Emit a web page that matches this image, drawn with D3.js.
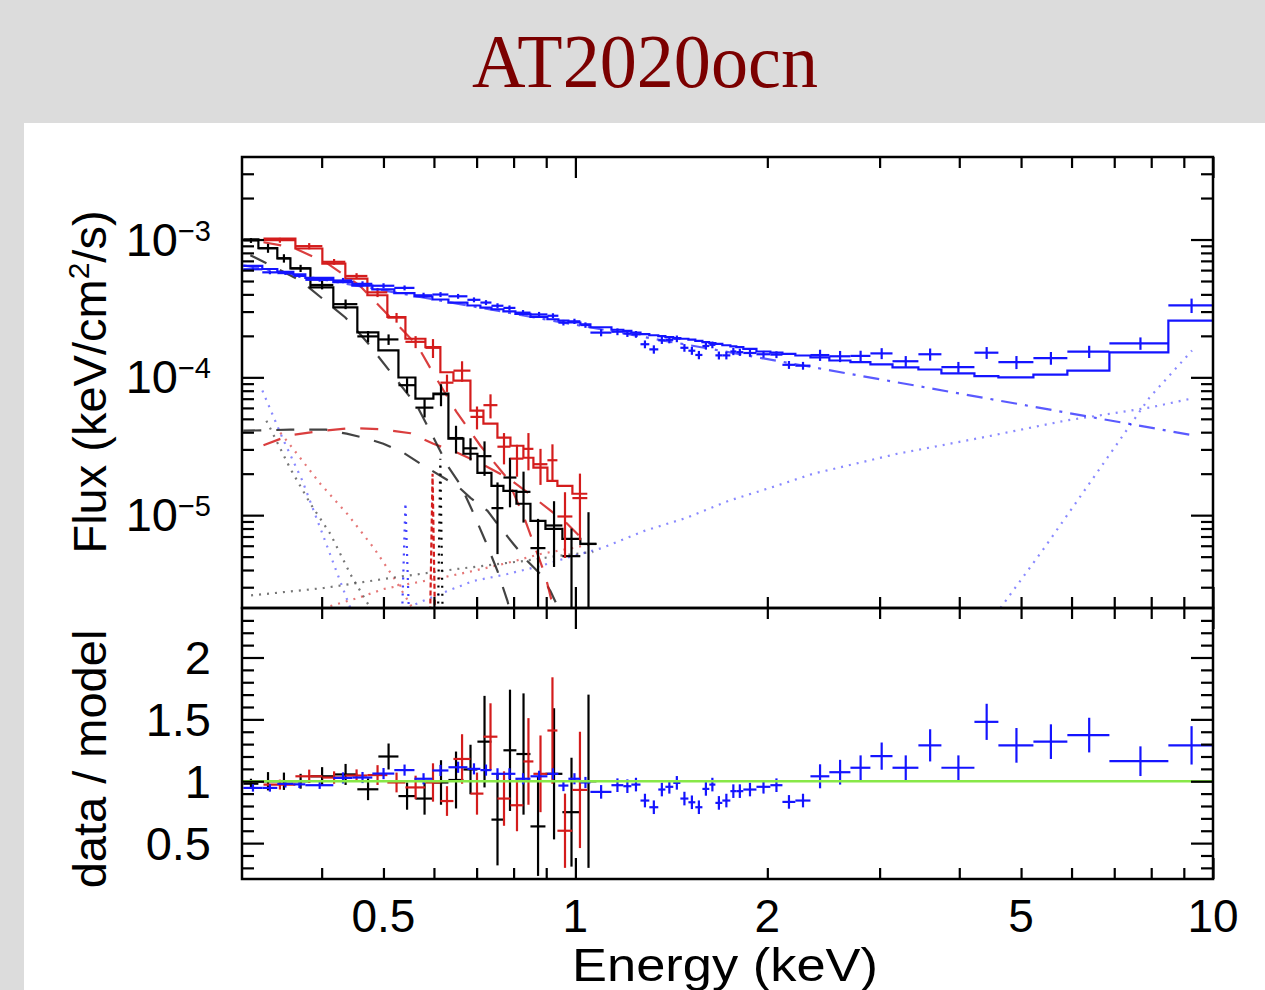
<!DOCTYPE html>
<html>
<head>
<meta charset="utf-8">
<script src="https://cdn.jsdelivr.net/npm/d3@7"></script>
<style>
  html, body { margin: 0; padding: 0; background: #dcdcdc; }
  svg { display: block; }
</style>
</head>
<body>
<div id="chart"></div>
<script>
// ---------- data (energies in keV, flux in keV/cm2/s) ----------
// black spectrum: bin edges, model per bin, data/model ratio and its error
const blackEdges = [0.3014, 0.3183, 0.3408, 0.3573, 0.3841, 0.4172, 0.4550, 0.4909, 0.5278, 0.5612, 0.5988,
  0.6322, 0.6674, 0.7020, 0.7385, 0.7711, 0.8082, 0.8502, 0.8975, 0.9541, 1.018, 1.079];
const blackModel = [1.005e-3, 8.65e-4, 7.31e-4, 6.18e-4, 4.50e-4, 3.22e-4, 2.12e-4, 1.57e-4, 9.97e-5, 7.01e-5,
  7.62e-5, 3.59e-5, 2.79e-5, 2.03e-5, 1.63e-5, 1.50e-5, 1.21e-5, 9.08e-6, 7.94e-6, 6.72e-6, 6.18e-6];
const blackRatio = [0.98, 1.0, 1.0, 1.0, 1.04, 1.055, 0.935, 1.2, 0.88, 0.86, 0.99, 1.01, 1.095, 1.32, 0.69,
  1.25, 1.22, 0.635, 1.06, 0.75, 1.0];
const blackRatioErr = [0.04, 0.074, 0.07, 0.06, 0.074, 0.085, 0.088, 0.105, 0.11, 0.13, 0.18, 0.23, 0.2, 0.37,
  0.37, 0.49, 0.49, 0.40, 0.53, 0.44, 0.70];

// red spectrum
const redEdges = [0.3242, 0.3638, 0.4010, 0.4357, 0.4718, 0.5071, 0.5413, 0.5818, 0.6141, 0.6438, 0.6845,
  0.7174, 0.7546, 0.7909, 0.8288, 0.8593, 0.9039, 0.9371, 0.9892, 1.044];
const redModel = [1.016e-3, 8.61e-4, 6.69e-4, 5.20e-4, 3.94e-4, 2.74e-4, 1.905e-4, 1.655e-4, 1.089e-4, 9.48e-5,
  5.74e-5, 4.62e-5, 3.65e-5, 3.19e-5, 2.61e-5, 2.21e-5, 1.775e-5, 1.63e-5, 1.43e-5];
const redRatio = [0.973, 1.04, 1.03, 1.046, 1.05, 0.99, 0.95, 0.99, 0.84, 1.18, 0.90, 1.36, 0.86, 0.806, 1.16,
  1.06, 1.41, 0.6, 0.93];
const redRatioErr = [0.04, 0.054, 0.05, 0.05, 0.08, 0.08, 0.095, 0.155, 0.12, 0.2, 0.17, 0.27, 0.22, 0.21, 0.35,
  0.31, 0.43, 0.30, 0.47];

// blue spectrum
const blueEdges = [0.3014, 0.3228, 0.3408, 0.3611, 0.3771, 0.4172, 0.4469, 0.4803, 0.5200, 0.5592, 0.5966,
  0.6322, 0.6771, 0.7096, 0.7385, 0.7711, 0.8052, 0.8502, 0.9039, 0.9404, 0.9750, 1.0182, 1.0557, 1.139, 1.189,
  1.224, 1.265, 1.306, 1.349, 1.384, 1.424, 1.461, 1.504, 1.542, 1.582, 1.622, 1.658, 1.700, 1.750, 1.788, 1.834,
  1.923, 2.022, 2.112, 2.213, 2.337, 2.502, 2.700, 2.902, 3.143, 3.451, 3.750, 4.225, 4.607, 5.228, 5.910, 6.879,
  8.511, 10.0];
const blueModel = [6.43e-4, 6.11e-4, 5.83e-4, 5.59e-4, 5.27e-4, 4.91e-4, 4.63e-4, 4.35e-4, 4.09e-4, 3.86e-4,
  3.67e-4, 3.48e-4, 3.32e-4, 3.20e-4, 3.12e-4, 3.01e-4, 2.89e-4, 2.75e-4, 2.64e-4, 2.585e-4, 2.50e-4, 2.42e-4,
  2.31e-4, 2.215e-4, 2.17e-4, 2.11e-4, 2.06e-4, 2.02e-4, 1.99e-4, 1.96e-4, 1.93e-4, 1.905e-4, 1.88e-4, 1.84e-4,
  1.80e-4, 1.77e-4, 1.75e-4, 1.71e-4, 1.675e-4, 1.655e-4, 1.61e-4, 1.54e-4, 1.51e-4, 1.48e-4, 1.44e-4, 1.395e-4,
  1.325e-4, 1.29e-4, 1.24e-4, 1.18e-4, 1.14e-4, 1.07e-4, 1.02e-4, 9.98e-5, 1.046e-4, 1.12e-4, 1.52e-4, 2.58e-4];
const blueRatio = [0.946, 0.946, 0.979, 0.975, 0.968, 1.027, 1.03, 1.062, 1.09, 1.02, 1.087, 1.113, 1.10, 1.09,
  1.06, 1.06, 1.02, 1.04, 1.06, 0.965, 1.02, 0.99, 0.914, 0.968, 0.96, 0.973, 0.844, 0.79, 0.933, 0.955, 0.987,
  0.86, 0.83, 0.79, 0.938, 0.973, 0.825, 0.844, 0.92, 0.92, 0.933, 0.955, 0.968, 0.833, 0.844, 1.04, 1.073, 1.109,
  1.203, 1.109, 1.29, 1.109, 1.48, 1.29, 1.32, 1.373, 1.162, 1.29];
const blueRatioErr = [0.03, 0.03, 0.03, 0.03, 0.03,
  0.045, 0.045, 0.045, 0.045, 0.045, 0.045, 0.045, 0.045, 0.045, 0.045, 0.045, 0.045, 0.045, 0.045, 0.045, 0.045, 0.045,
  0.055, 0.055, 0.055, 0.055, 0.055, 0.055, 0.055, 0.055, 0.055, 0.055, 0.055, 0.055, 0.055, 0.055, 0.055, 0.055,
  0.055, 0.055, 0.055, 0.055, 0.055, 0.055, 0.055,
  0.097, 0.10, 0.10, 0.11, 0.10, 0.13, 0.10, 0.146, 0.14, 0.14, 0.14, 0.12, 0.155];

// model components, [E, flux]
const blackDisk = [[0.3092, 7.69e-4], [0.370, 5.06e-4], [0.4357, 2.72e-4], [0.4718, 1.79e-4], [0.5150, 1.066e-4],
  [0.5653, 6.13e-5], [0.6014, 3.53e-5], [0.6303, 2.28e-5], [0.6603, 1.66e-5], [0.6894, 1.075e-5], [0.7225, 6.50e-6],
  [0.7546, 3.94e-6], [0.7826, 2.38e-6], [0.7966, 1.70e-6]];
const blackBB = [[0.3014, 4.10e-5], [0.3573, 4.17e-5], [0.4064, 4.17e-5], [0.4377, 3.90e-5], [0.4718, 3.59e-5],
  [0.4999, 3.30e-5], [0.5375, 2.84e-5], [0.5718, 2.36e-5], [0.6141, 1.93e-5], [0.6532, 1.63e-5], [0.6845, 1.336e-5],
  [0.7281, 1.075e-5], [0.7546, 8.64e-6], [0.7995, 6.18e-6], [0.8408, 4.65e-6], [0.8813, 3.74e-6], [0.9137, 2.81e-6],
  [0.9405, 2.12e-6]];
const redDisk = [[0.3242, 9.56e-4], [0.3596, 8.79e-4], [0.4057, 6.84e-4], [0.4584, 4.65e-4], [0.5093, 2.81e-4],
  [0.5653, 1.70e-4], [0.6014, 1.03e-4], [0.6505, 5.64e-5], [0.7096, 3.19e-5], [0.7826, 1.84e-5], [0.8348, 9.09e-6],
  [0.8975, 3.62e-6], [0.9236, 2.12e-6]];
const redBB = [[0.3242, 3.22e-5], [0.3573, 3.81e-5], [0.3980, 4.07e-5], [0.4436, 4.28e-5], [0.4945, 4.21e-5],
  [0.5514, 3.93e-5], [0.5988, 3.30e-5], [0.6532, 2.84e-5], [0.7174, 2.32e-5], [0.7826, 1.87e-5], [0.8348, 1.50e-5],
  [0.9070, 1.11e-5], [0.9645, 8.94e-6], [1.0145, 7.07e-6], [1.044, 5.98e-6]];
const blackSoftDrop = [[0.3276, 4.85e-5], [0.3573, 2.17e-5], [0.3841, 1.21e-5], [0.4128, 7.31e-6],
  [0.4436, 3.74e-6], [0.4768, 2.12e-6]];
const redSoftDrop = [[0.3445, 3.97e-5], [0.3608, 3.03e-5], [0.3980, 1.69e-5], [0.4389, 1.02e-5],
  [0.4829, 5.78e-6], [0.5194, 3.50e-6], [0.5551, 2.12e-6]];
const blueSoftDrop = [[0.3229, 8.02e-5], [0.3470, 3.65e-5], [0.3731, 1.775e-5], [0.4012, 7.31e-6],
  [0.4235, 3.74e-6], [0.4436, 2.12e-6]];
const blackHardRise = [[0.31, 2.62e-6], [0.3265, 2.68e-6], [0.4030, 2.96e-6], [0.5125, 3.50e-6], [0.6529, 4.07e-6],
  [0.8288, 4.65e-6], [0.937, 5.06e-6], [1.067, 5.41e-6]];
const redHardRise = [[0.4128, 2.19e-6], [0.4550, 2.50e-6], [0.5004, 2.91e-6], [0.5455, 3.16e-6], [0.6141, 3.50e-6],
  [0.6918, 3.94e-6], [0.7824, 4.50e-6], [0.8813, 5.23e-6], [0.9928, 5.78e-6], [1.056, 6.18e-6]];
const blueHardRise = [[0.5612, 2.26e-6], [0.614, 2.69e-6], [0.6918, 3.33e-6], [0.7824, 3.74e-6], [0.8813, 4.28e-6],
  [0.9928, 5.06e-6], [1.102, 5.78e-6], [1.283, 7.69e-6], [1.493, 9.56e-6], [1.738, 1.27e-5], [2.022, 1.58e-5],
  [2.362, 2.00e-5], [3.199, 2.79e-5], [4.334, 3.65e-5], [5.868, 4.85e-5], [7.948, 6.03e-5], [9.25, 7.01e-5]];
const bluePowerlaw = [[0.3014, 6.50e-4], [9.385, 3.77e-5]];
const blueSteep = [[4.641, 2.12e-6], [5.44, 5.80e-6], [6.33, 1.58e-5], [7.95, 7.13e-5], [9.27, 1.566e-4]];
const blueLine = [[0.535, 2.0e-6], [0.5413, 1.23e-5], [0.548, 2.0e-6]];
const redLine = [[0.592, 2.0e-6], [0.597, 2.0e-5], [0.602, 2.0e-6]];
const blackLine = [[0.609, 2.0e-6], [0.614, 2.57e-5], [0.619, 2.0e-6]];

// ticks
const xMajor = [1, 10];
const xMinor = [0.4, 0.5, 0.6, 0.7, 0.8, 0.9, 2, 3, 4, 5, 6, 7, 8, 9];
const xLabels = [0.5, 1, 2, 5, 10];
const fMajor = [1e-5, 1e-4, 1e-3];
const fMinor = [3e-6, 4e-6, 5e-6, 6e-6, 7e-6, 8e-6, 9e-6, 2e-5, 3e-5, 4e-5, 5e-5, 6e-5, 7e-5, 8e-5, 9e-5,
  2e-4, 3e-4, 4e-4, 5e-4, 6e-4, 7e-4, 8e-4, 9e-4, 2e-3, 3e-3];
const rMajor = [0.5, 1, 1.5, 2];
const rMinor = [0.3, 0.4, 0.6, 0.7, 0.8, 0.9, 1.1, 1.2, 1.3, 1.4, 1.6, 1.7, 1.8, 1.9, 2.1, 2.2, 2.3];
const rLabels = ["0.5", "1", "1.5", "2"];

// ---------- layout ----------
const W = 1265, H = 990;
const X0 = 242, X1 = 1213, T0 = 157, T1 = 608, B1 = 879;
const BLACK = "#000", RED = "#d41c1c", BLUE = "#1414ff";

const svg = d3.select("#chart").append("svg")
  .attr("width", W).attr("height", H)
  .style("font-family", "'Liberation Sans', Arial, Helvetica, sans-serif");

svg.append("rect").attr("width", W).attr("height", H).attr("fill", "#dcdcdc");
svg.append("rect").attr("x", 24).attr("y", 123).attr("width", W - 24).attr("height", H - 123).attr("fill", "#fff");

svg.append("text")
  .attr("x", 645).attr("y", 87)
  .attr("text-anchor", "middle")
  .attr("font-family", "'Liberation Serif', 'Times New Roman', serif")
  .attr("font-size", 76)
  .attr("fill", "#7b0000")
  .attr("textLength", 346).attr("lengthAdjust", "spacingAndGlyphs")
  .text("AT2020ocn");

const x = d3.scaleLog().domain([0.3, 10]).range([X0, X1]);
const yF = d3.scaleLog().domain([2.12e-6, 3.97e-3]).range([T1, T0]);
const yR = d3.scaleLinear().domain([0.21, 2.4]).range([B1, T1]);

const defs = svg.append("defs");
defs.append("clipPath").attr("id", "clipTop").append("rect")
  .attr("x", X0).attr("y", T0).attr("width", X1 - X0).attr("height", T1 - T0);
defs.append("clipPath").attr("id", "clipBot").append("rect")
  .attr("x", X0).attr("y", T1).attr("width", X1 - X0).attr("height", B1 - T1);

const topG = svg.append("g").attr("clip-path", "url(#clipTop)");
const botG = svg.append("g").attr("clip-path", "url(#clipBot)");

// ---------- model components ----------
const compLine = d3.line().x(d => x(d[0])).y(d => yF(d[1]));
const LONG = "18,15", DOT = "2,6", DASHDOT = "16,8,3,8", SHORT = "5,3";
const comps = [
  { pts: blackSoftDrop, color: "#555", dash: DOT, op: 0.8 },
  { pts: redSoftDrop, color: RED, dash: DOT, op: 0.6 },
  { pts: blueSoftDrop, color: BLUE, dash: DOT, op: 0.5 },
  { pts: blackHardRise, color: "#555", dash: DOT, op: 0.8 },
  { pts: redHardRise, color: RED, dash: DOT, op: 0.6 },
  { pts: blueHardRise, color: BLUE, dash: DOT, op: 0.5 },
  { pts: blueSteep, color: BLUE, dash: DOT, op: 0.5 },
  { pts: blueLine, color: BLUE, dash: DOT, op: 0.8 },
  { pts: redLine, color: RED, dash: SHORT, op: 1 },
  { pts: blackLine, color: BLACK, dash: DOT, op: 1 },
  { pts: blackBB, color: "#222", dash: LONG, op: 0.85 },
  { pts: redBB, color: RED, dash: LONG, op: 0.85 },
  { pts: blackDisk, color: "#222", dash: LONG, op: 0.85 },
  { pts: redDisk, color: RED, dash: LONG, op: 0.85 },
  { pts: bluePowerlaw, color: BLUE, dash: DASHDOT, op: 0.7 }
];
topG.selectAll("path.comp").data(comps).join("path")
  .attr("class", "comp")
  .attr("d", d => compLine(d.pts))
  .attr("fill", "none")
  .attr("stroke", d => d.color)
  .attr("stroke-opacity", d => d.op)
  .attr("stroke-width", 2.2)
  .attr("stroke-dasharray", d => d.dash);

// ---------- spectra ----------
const stepLine = d3.line().x(d => x(d[0])).y(d => yF(d[1])).curve(d3.curveStepAfter);

function spectrum(edges, model, ratio, err, color) {
  const bins = ratio.map((r, i) => ({ lo: edges[i], hi: edges[i + 1], m: model[i], r, e: err[i] }));
  const steps = model.map((m, i) => [edges[i], m]).concat([[edges[edges.length - 1], model[model.length - 1]]]);

  topG.append("path")
    .attr("d", stepLine(steps))
    .attr("fill", "none").attr("stroke", color).attr("stroke-width", 2.2);

  const gt = topG.append("g").attr("stroke", color).attr("stroke-width", 2.2);
  gt.selectAll("line.h").data(bins).join("line").attr("class", "h")
    .attr("x1", d => x(d.lo)).attr("x2", d => x(d.hi))
    .attr("y1", d => yF(d.m * d.r)).attr("y2", d => yF(d.m * d.r));
  gt.selectAll("line.v").data(bins).join("line").attr("class", "v")
    .attr("x1", d => x((d.lo + d.hi) / 2)).attr("x2", d => x((d.lo + d.hi) / 2))
    .attr("y1", d => yF(Math.max(d.m * (d.r - d.e), 1e-7))).attr("y2", d => yF(d.m * (d.r + d.e)));

  const gb = botG.append("g").attr("stroke", color).attr("stroke-width", 2.2);
  gb.selectAll("line.h").data(bins).join("line").attr("class", "h")
    .attr("x1", d => x(d.lo)).attr("x2", d => x(d.hi))
    .attr("y1", d => yR(d.r)).attr("y2", d => yR(d.r));
  gb.selectAll("line.v").data(bins).join("line").attr("class", "v")
    .attr("x1", d => x((d.lo + d.hi) / 2)).attr("x2", d => x((d.lo + d.hi) / 2))
    .attr("y1", d => yR(d.r - d.e)).attr("y2", d => yR(d.r + d.e));
}

spectrum(blackEdges, blackModel, blackRatio, blackRatioErr, BLACK);
spectrum(redEdges, redModel, redRatio, redRatioErr, RED);
spectrum(blueEdges, blueModel, blueRatio, blueRatioErr, BLUE);

botG.append("line")
  .attr("x1", X0).attr("x2", X1).attr("y1", yR(1)).attr("y2", yR(1))
  .attr("stroke", "#88e848").attr("stroke-width", 2.5);

// ---------- frames and ticks ----------
function ticks(axisGen, scale, values, size, tx, ty) {
  svg.append("g").attr("transform", `translate(${tx},${ty})`)
    .call(axisGen(scale).tickValues(values).tickSize(-size).tickFormat(""))
    .call(g => g.select(".domain").remove())
    .call(g => g.selectAll("line").attr("stroke", "#000").attr("stroke-width", 2.2));
}

[[T0, T1, yF, fMajor, fMinor], [T1, B1, yR, rMajor, rMinor]].forEach(([y0, y1, ys, maj, mnr]) => {
  ticks(d3.axisTop, x, xMajor, 21, 0, y0);
  ticks(d3.axisTop, x, xMinor, 11, 0, y0);
  ticks(d3.axisBottom, x, xMajor, 21, 0, y1);
  ticks(d3.axisBottom, x, xMinor, 11, 0, y1);
  ticks(d3.axisLeft, ys, maj, 22, X0, 0);
  ticks(d3.axisLeft, ys, mnr, 12, X0, 0);
  ticks(d3.axisRight, ys, maj, 22, X1, 0);
  ticks(d3.axisRight, ys, mnr, 12, X1, 0);
  svg.append("rect")
    .attr("x", X0).attr("y", y0).attr("width", X1 - X0).attr("height", y1 - y0)
    .attr("fill", "none").attr("stroke", "#000").attr("stroke-width", 2.5);
});

// ---------- labels ----------
svg.append("g").selectAll("text").data(fMajor).join("text")
  .attr("x", 211).attr("y", d => yF(d) + 16)
  .attr("text-anchor", "end").attr("font-size", 47)
  .each(function (d) {
    const t = d3.select(this);
    t.append("tspan").text("10");
    t.append("tspan").attr("font-size", 29).attr("dy", -15).text("\u2212" + Math.round(-Math.log10(d)));
  });

svg.append("g").selectAll("text").data(rMajor).join("text")
  .attr("x", 211).attr("y", d => yR(d) + 17)
  .attr("text-anchor", "end").attr("font-size", 47)
  .text((d, i) => rLabels[i]);

svg.append("g").selectAll("text").data(xLabels).join("text")
  .attr("x", d => x(d)).attr("y", 932)
  .attr("text-anchor", "middle").attr("font-size", 46)
  .text(d => String(d));

svg.append("text")
  .attr("x", 725).attr("y", 981)
  .attr("text-anchor", "middle").attr("font-size", 47)
  .attr("textLength", 306).attr("lengthAdjust", "spacingAndGlyphs")
  .text("Energy (keV)");

const fluxLabel = svg.append("text")
  .attr("transform", "translate(106,382) rotate(-90)")
  .attr("text-anchor", "middle").attr("font-size", 47);
fluxLabel.append("tspan").text("Flux (keV/cm");
fluxLabel.append("tspan").attr("font-size", 30).attr("dy", -17).text("2");
fluxLabel.append("tspan").attr("dy", 17).text("/s)");

svg.append("text")
  .attr("transform", "translate(106,759) rotate(-90)")
  .attr("text-anchor", "middle").attr("font-size", 47)
  .text("data / model");
</script>
</body>
</html>
